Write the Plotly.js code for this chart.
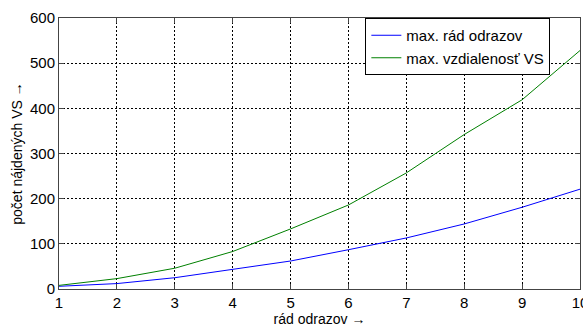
<!DOCTYPE html>
<html>
<head>
<meta charset="utf-8">
<script src="https://cdn.plot.ly/plotly-3.0.1.min.js"></script>
<style>html,body{margin:0;padding:0;background:#fff;}#chart{width:583px;height:327px;}</style>
</head>
<body>
<div id="chart"></div>
<script>
const xValues = [1, 2, 3, 4, 5, 6, 7, 8, 9, 10];
const maxRadOdrazov = [6, 12, 25, 43, 62, 87, 113, 144, 181, 221];
const maxVzdialenost = [8, 23, 46, 83, 133, 186, 257, 342, 419, 528];
const seriesNames = ["max. rád odrazov", "max. vzdialenosť VS"];
const xTicks = [1, 2, 3, 4, 5, 6, 7, 8, 9, 10];
const yTicks = [0, 100, 200, 300, 400, 500, 600];

const font = "Arial, 'Liberation Sans', sans-serif";
const traces = [
  {x: xValues, y: maxRadOdrazov, name: seriesNames[0], mode: "lines", line: {color: "#0000ff", width: 1}},
  {x: xValues, y: maxVzdialenost, name: seriesNames[1], mode: "lines", line: {color: "#008000", width: 1}}
];
const axisCommon = {
  showgrid: true, gridcolor: "#000", griddash: "2px,2px", gridwidth: 1,
  showline: true, linecolor: "#444", linewidth: 1, mirror: "ticks",
  ticks: "inside", ticklen: 5, tickcolor: "#444",
  zeroline: false, ticklabeloverflow: "allow",
  tickfont: {family: font, size: 15, color: "#000"}
};
const layout = {
  width: 583, height: 327,
  margin: {l: 59, r: 3, t: 18, b: 38},
  paper_bgcolor: "#fff", plot_bgcolor: "#fff",
  showlegend: true,
  legend: {x: 0.588, y: 1, xanchor: "left", yanchor: "top", bgcolor: "#fff",
    bordercolor: "#000", borderwidth: 1, font: {family: font, size: 15, color: "#000"},
    tracegroupgap: 0, itemwidth: 30},
  xaxis: Object.assign({}, axisCommon, {range: [1, 10], tickvals: xTicks,
    title: {text: "rád odrazov →", font: {family: font, size: 14, color: "#000"}, standoff: 2}}),
  yaxis: Object.assign({}, axisCommon, {range: [0, 600], tickvals: yTicks,
    title: {text: "počet nájdených VS →", font: {family: font, size: 14, color: "#000"}, standoff: 4}})
};
Plotly.newPlot("chart", traces, layout, {displayModeBar: false, staticPlot: true});
</script>
</body>
</html>
